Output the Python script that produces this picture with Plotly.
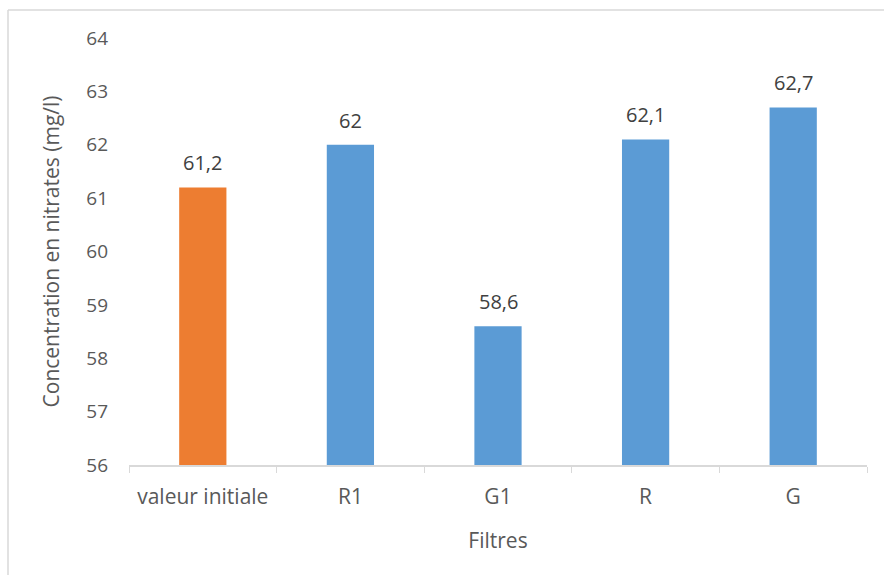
import plotly.graph_objects as go

categories = ["valeur initiale", "R1", "G1", "R", "G"]
values = [61.2, 62, 58.6, 62.1, 62.7]
colors = ["#ED7D31", "#5B9BD5", "#5B9BD5", "#5B9BD5", "#5B9BD5"]
y_ticks = [56, 57, 58, 59, 60, 61, 62, 63, 64]

labels = [("%g" % v).replace(".", ",") for v in values]

font_family = "Open Sans, Liberation Sans, sans-serif"

fig = go.Figure()
fig.add_trace(go.Bar(
    x=categories, y=values, marker=dict(color=colors, line=dict(width=0)),
    width=0.32,
))

for c, v, t in zip(categories, values, labels):
    fig.add_annotation(x=c, y=v, text=t, showarrow=False, yanchor="bottom",
                       yshift=9, font=dict(size=20, color="#404040", family=font_family))

fig.update_layout(
    width=884, height=575,
    margin=dict(l=129, r=17, t=38, b=110),
    paper_bgcolor="white", plot_bgcolor="white",
    showlegend=False,
    font=dict(family=font_family, color="#595959", size=19),
    xaxis=dict(
        type="category", showline=True, linecolor="#D9D9D9", linewidth=1.5,
        ticks="outside", tickson="boundaries", ticklen=6, tickcolor="#D9D9D9",
        tickfont=dict(size=21, color="#595959"),
        ticklabelstandoff=12,
        title=dict(text="Filtres", font=dict(size=21, color="#595959"), standoff=24),
        showgrid=False,
    ),
    yaxis=dict(
        range=[56, 64], tickvals=y_ticks, showgrid=False, showline=False,
        zeroline=False, ticks="", ticklabelstandoff=20,
        tickfont=dict(size=19, color="#595959"),
        title=dict(text="Concentration en nitrates (mg/l)", font=dict(size=21, color="#595959"), standoff=20),
    ),
)

# chart border (left and top edges visible)
x0 = (8 - 129) / 738
x1 = (884 - 129) / 738
y1 = (465 - 10) / 427
y0 = (465 - 575) / 427
fig.add_shape(type="line", xref="paper", yref="paper", x0=x0, x1=x0, y0=y0, y1=y1,
              line=dict(color="#D9D9D9", width=1.5), layer="below")
fig.add_shape(type="line", xref="paper", yref="paper", x0=x0, x1=x1, y0=y1, y1=y1,
              line=dict(color="#D9D9D9", width=1.5), layer="below")

fig.write_html("out.html")
